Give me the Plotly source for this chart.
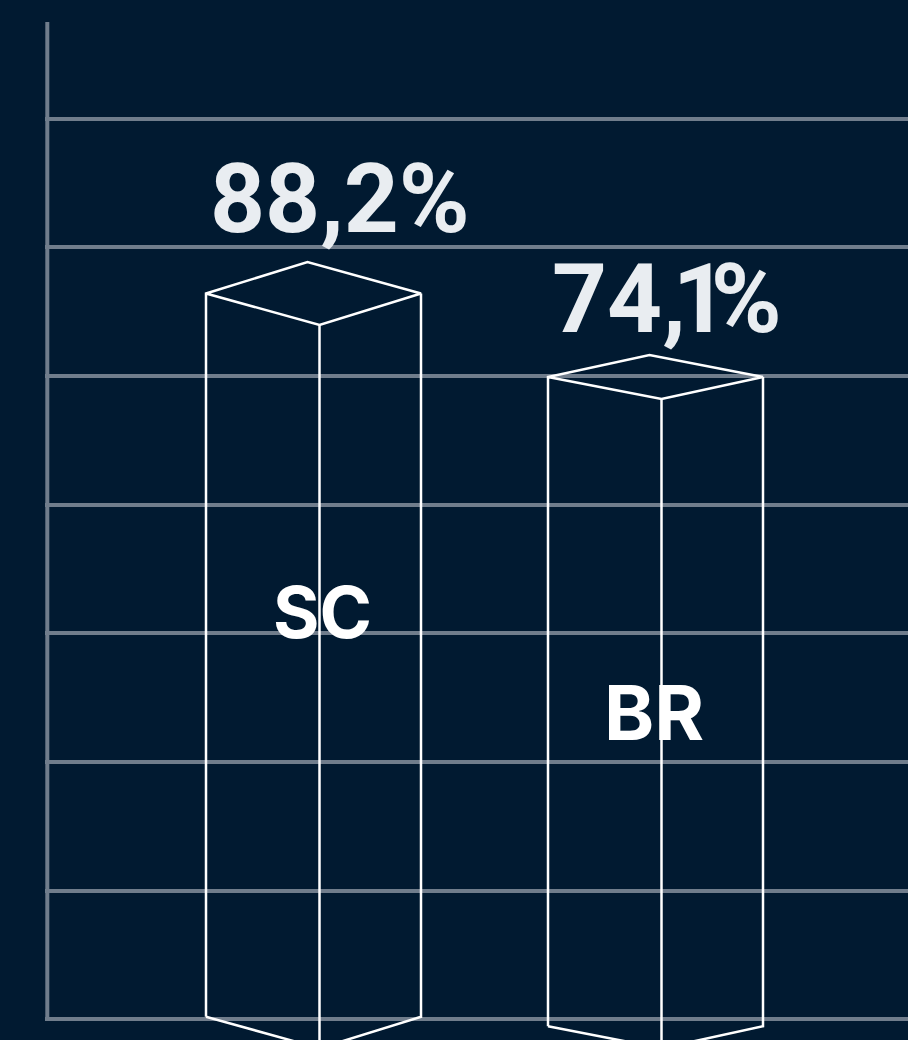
import plotly.graph_objects as go

# ---- data ----
categories = ["SC", "BR"]
values = [88.2, 74.1]

# ---- style / geometry (not data) ----
BG = "#011a31"
GRID = "#707d8c"
VALUE_COLOR = "#e9edf1"
PX_PER_X = 342.0          # pixels per x unit
PX_PER_Y = 5.922          # pixels per y unit
HALF_W = 107.5 / PX_PER_X
SKEW = 6.0 / PX_PER_X
DEPTH_PX = [31.5, 22.0]   # perspective depth of each prism's top face
BASE_FRONT = -39.26       # front-bottom corner level of the prisms
X_RANGE = [-0.7851, 1.7383]
Y_RANGE = [-37.86, 134.04]
GRID_TICK0 = -34.38
GRID_DTICK = 21.73
VAL_SHIFT = [94, 78]
CAT_SHIFT = [-318.5, -335]
CAT_XSHIFT = [9, -2]
CAT_SIZE = [71, 76]


def fmt_value(v):
    """Brazilian decimal comma; proportional (narrow) digit '1'."""
    s = f"{v:.1f}".replace(".", ",") + "%"
    out = []
    for j, ch in enumerate(s):
        nxt = s[j + 1] if j + 1 < len(s) else ""
        if ch == "1":
            out.append('<span style="letter-spacing:-17px">1</span>')
        elif nxt == "1":
            out.append(f'<span style="letter-spacing:-13px">{ch}</span>')
        else:
            out.append(ch)
    return "".join(out)


fig = go.Figure()

for i, (cat, v) in enumerate(zip(categories, values)):
    d = DEPTH_PX[i] / PX_PER_Y
    yb = BASE_FRONT + d
    cx = i
    L_top = (cx - HALF_W, v)
    B_top = (cx - SKEW, v + d)
    R_top = (cx + HALF_W, v)
    F_top = (cx + SKEW, v - d)
    L_bot = (cx - HALF_W, yb)
    R_bot = (cx + HALF_W, yb)
    F_bot = (cx + SKEW, yb - d)
    pts = [L_bot, L_top, B_top, R_top, F_top, L_top, None,
           F_top, F_bot, None,
           R_top, R_bot, F_bot, L_bot]
    xs = [p[0] if p else None for p in pts]
    ys = [p[1] if p else None for p in pts]
    fig.add_trace(go.Scatter(x=xs, y=ys, mode="lines",
                             line=dict(color="white", width=2.5),
                             connectgaps=False, hoverinfo="skip",
                             showlegend=False))
    fig.add_annotation(x=cx - HALF_W, y=v, text=fmt_value(v), showarrow=False,
                       xanchor="left", yanchor="middle", xshift=2,
                       yshift=VAL_SHIFT[i],
                       font=dict(family="Roboto", size=96, color=VALUE_COLOR,
                                 weight=700))
    fig.add_annotation(x=cx, y=v, text=cat, showarrow=False,
                       xanchor="center", yanchor="middle",
                       xshift=CAT_XSHIFT[i], yshift=CAT_SHIFT[i],
                       font=dict(family="Inter", size=CAT_SIZE[i],
                                 color="white", weight=700))

# vertical axis line
fig.add_shape(type="line", xref="x", yref="y",
              x0=X_RANGE[0] + 2.3 / PX_PER_X, x1=X_RANGE[0] + 2.3 / PX_PER_X,
              y0=GRID_TICK0, y1=Y_RANGE[1],
              line=dict(color=GRID, width=4), layer="below")

fig.update_layout(
    width=908, height=1040,
    margin=dict(l=45, r=0, t=22, b=0),
    paper_bgcolor=BG, plot_bgcolor=BG,
    showlegend=False,
    xaxis=dict(range=X_RANGE, visible=False, showgrid=False, zeroline=False),
    yaxis=dict(range=Y_RANGE, showgrid=True, gridcolor=GRID, gridwidth=4,
               tick0=GRID_TICK0, dtick=GRID_DTICK, showticklabels=False,
               zeroline=False, showline=False, ticks=""),
)

fig.write_html(
    "out.html",
    config={"displayModeBar": False},
    post_script="document.body.style.margin='0';"
                "document.body.style.overflow='hidden';"
                "document.body.style.background='" + BG + "';",
)
